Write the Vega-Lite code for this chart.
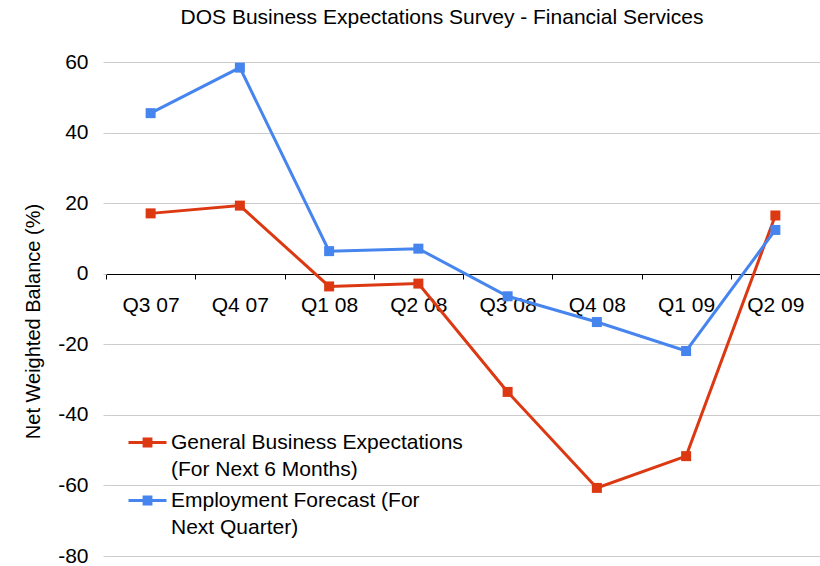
{
  "$schema": "https://vega.github.io/schema/vega-lite/v6.json",
  "width": 714,
  "height": 494,
  "autosize": "none",
  "padding": {"left": 106, "top": 62, "right": 0, "bottom": 10},
  "background": "white",
  "title": {
    "text": "DOS Business Expectations Survey - Financial Services",
    "font": "Liberation Sans",
    "fontSize": 21,
    "fontWeight": "normal",
    "color": "black",
    "anchor": "middle",
    "dx": -21,
    "offset": 23
  },
  "config": {"view": {"stroke": null}, "font": "Liberation Sans"},
  "data": {
    "values": [
      {"quarter": "Q3 07", "series": "General Business Expectations (For Next 6 Months)", "value": 17.1},
      {"quarter": "Q4 07", "series": "General Business Expectations (For Next 6 Months)", "value": 19.3},
      {"quarter": "Q1 08", "series": "General Business Expectations (For Next 6 Months)", "value": -3.6},
      {"quarter": "Q2 08", "series": "General Business Expectations (For Next 6 Months)", "value": -2.8},
      {"quarter": "Q3 08", "series": "General Business Expectations (For Next 6 Months)", "value": -33.5},
      {"quarter": "Q4 08", "series": "General Business Expectations (For Next 6 Months)", "value": -60.7},
      {"quarter": "Q1 09", "series": "General Business Expectations (For Next 6 Months)", "value": -51.7},
      {"quarter": "Q2 09", "series": "General Business Expectations (For Next 6 Months)", "value": 16.5},
      {"quarter": "Q3 07", "series": "Employment Forecast (For Next Quarter)", "value": 45.5},
      {"quarter": "Q4 07", "series": "Employment Forecast (For Next Quarter)", "value": 58.4},
      {"quarter": "Q1 08", "series": "Employment Forecast (For Next Quarter)", "value": 6.4},
      {"quarter": "Q2 08", "series": "Employment Forecast (For Next Quarter)", "value": 7.1},
      {"quarter": "Q3 08", "series": "Employment Forecast (For Next Quarter)", "value": -6.4},
      {"quarter": "Q4 08", "series": "Employment Forecast (For Next Quarter)", "value": -13.7},
      {"quarter": "Q1 09", "series": "Employment Forecast (For Next Quarter)", "value": -21.9},
      {"quarter": "Q2 09", "series": "Employment Forecast (For Next Quarter)", "value": 12.4}
    ]
  },
  "encoding": {
    "x": {
      "field": "quarter",
      "type": "ordinal",
      "sort": null,
      "scale": {"type": "band", "paddingInner": 0, "paddingOuter": 0},
      "axis": {
        "title": null,
        "offset": -282,
        "domainColor": "black",
        "domainWidth": 1,
        "tickColor": "black",
        "tickSize": 5,
        "tickBand": "extent",
        "labelFontSize": 21,
        "labelColor": "black",
        "labelPadding": 15,
        "labelAngle": 0,
        "grid": false
      }
    },
    "y": {
      "field": "value",
      "type": "quantitative",
      "scale": {"domain": [-80, 60], "nice": false},
      "axis": {
        "title": "Net Weighted Balance (%)",
        "titleFontSize": 20,
        "titleFontWeight": "normal",
        "titleColor": "black",
        "titlePadding": 14,
        "titleY": 259,
        "values": [-80, -60, -40, -20, 0, 20, 40, 60],
        "labelExpr": "'' + datum.value",
        "labelFontSize": 21,
        "labelColor": "black",
        "labelPadding": 15,
        "domain": false,
        "tickColor": "#cccccc",
        "tickSize": 3,
        "gridColor": "#cccccc",
        "gridWidth": 1
      }
    },
    "color": {
      "field": "series",
      "type": "nominal",
      "scale": {
        "domain": ["General Business Expectations (For Next 6 Months)", "Employment Forecast (For Next Quarter)"],
        "range": ["#DC3912", "#4684EE"]
      },
      "legend": {
        "title": null,
        "orient": "none",
        "legendX": 21,
        "legendY": 360,
        "symbolType": "M-1,0L1,0M-0.18,-0.18L0.18,-0.18L0.18,0.18L-0.18,0.18Z",
        "symbolSize": 1444,
        "symbolStrokeWidth": 3,
        "labelFontSize": 21,
        "labelColor": "black",
        "labelLimit": 450,
        "labelOffset": 3,
        "rowPadding": 0,
        "labelExpr": "datum.label == 'General Business Expectations (For Next 6 Months)' ? ['General Business Expectations', '(For Next 6 Months)'] : ['Employment Forecast (For', 'Next Quarter)']",
        "encode": {
          "symbols": {"update": {"fill": {"scale": "color", "field": "value"}, "opacity": {"value": 1}}},
          "labels": {"update": {"lineHeight": {"value": 27}}}
        }
      }
    }
  },
  "layer": [
    {"mark": {"type": "line", "strokeWidth": 3}},
    {"mark": {"type": "point", "shape": "square", "filled": true, "size": 100, "opacity": 1}}
  ]
}
